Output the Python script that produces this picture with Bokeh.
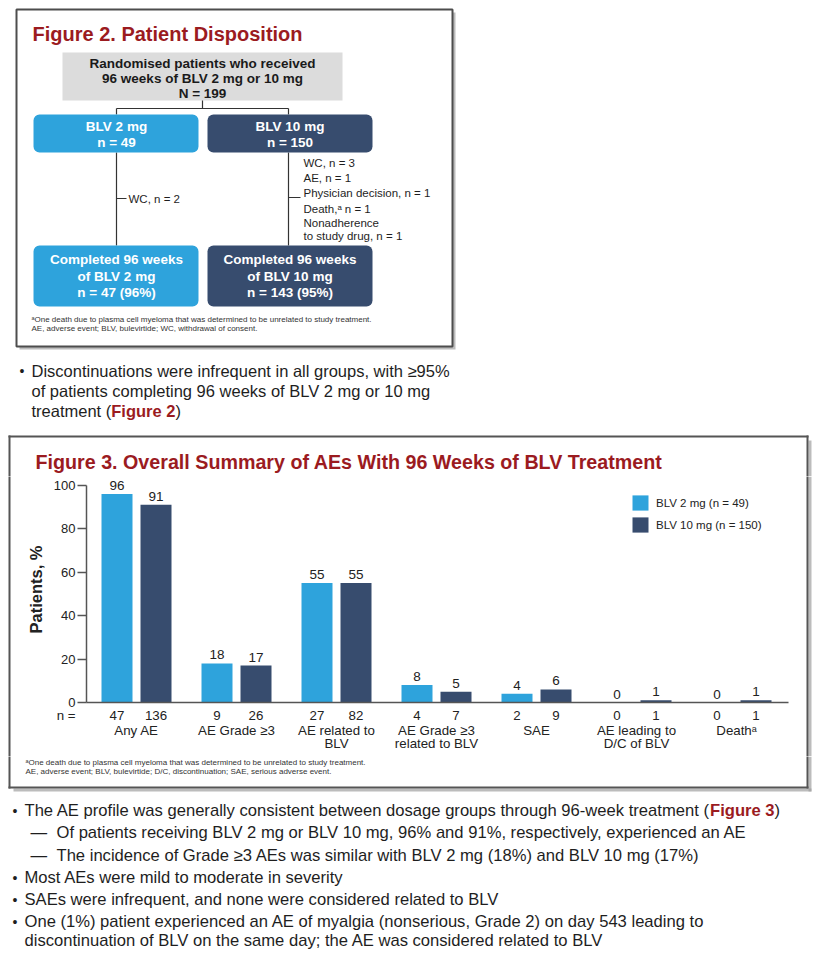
from bokeh.plotting import figure
from bokeh.layouts import column, row
from bokeh.models import (Range1d, FixedTicker, LinearAxis, LabelSet, ColumnDataSource, Legend,
                          LegendItem, AllLabels)
from bokeh.core.properties import value
from bokeh.embed import file_html
from bokeh.resources import INLINE

FONT = "Liberation Sans"
RED = "#9B1B1F"
LBLUE = "#2EA3DC"
NAVY = "#374C6E"
INK = "#1e1e1e"
EDGE = "#555555"
SHADOW = "#a0a0a0"

# ---------------- data ----------------
ae_categories = ["Any AE", "AE Grade \u22653", "AE related to\nBLV", "AE Grade \u22653\nrelated to BLV",
                 "SAE", "AE leading to\nD/C of BLV", "Death\u1d43"]
pct_2mg = [96, 18, 55, 8, 4, 0, 0]
pct_10mg = [91, 17, 55, 5, 6, 1, 1]
n_2mg = [47, 9, 27, 4, 2, 0, 0]
n_10mg = [136, 26, 82, 7, 9, 1, 1]
series_labels = ["BLV 2 mg (n = 49)", "BLV 10 mg (n = 150)"]
y_ticks = [0, 20, 40, 60, 80, 100]

randomised_lines = ["Randomised patients who received", "96 weeks of BLV 2 mg or 10 mg", "N = 199"]
arm_lines_2mg = ["BLV 2 mg", "n = 49"]
arm_lines_10mg = ["BLV 10 mg", "n = 150"]
done_lines_2mg = ["Completed 96 weeks", "of BLV 2 mg", "n = 47 (96%)"]
done_lines_10mg = ["Completed 96 weeks", "of BLV 10 mg", "n = 143 (95%)"]
withdraw_2mg = ["WC, n = 2"]
withdraw_10mg = ["WC, n = 3", "AE, n = 1", "Physician decision, n = 1", "Death,\u1d43 n = 1",
                 "Nonadherence", "to study drug, n = 1"]

# Arial / Liberation Sans advance widths (1/1000 em) used to place mixed-style text
AW = dict(zip("abcdefghijklmnopqrstuvwxyz",
              [556, 556, 500, 556, 556, 278, 556, 556, 222, 222, 500, 222, 833, 556, 556, 556, 556,
               333, 500, 278, 556, 500, 722, 500, 500, 500]))
AW.update({"T": 611, "A": 667, "E": 667, " ": 278, "(": 333, ")": 333, "-": 333, ",": 278, ".": 278})
for d in "0123456789":
    AW[d] = 556
AWB = {"F": 611, "i": 278, "g": 611, "u": 611, "r": 389, "e": 556, " ": 278, "2": 556, "3": 556}


def tw(s, size, table=AW):
    return sum(table.get(c, 556) for c in s) * size / 1000.0


def canvas(x0, width, y0, height):
    p = figure(width=width, height=height, x_range=Range1d(x0, x0 + width), y_range=Range1d(y0 + height, y0),
               x_axis_type=None, y_axis_type=None, toolbar_location=None, output_backend="svg",
               min_border=0, title=None, outline_line_color=None, frame_align=False)
    p.background_fill_color = "white"
    p.border_fill_color = "white"
    return p


def txt(p, x, y, s, size, color=INK, bold=False, align="left"):
    p.text(x=[x], y=[y], text=[s], text_font=value(FONT), text_font_size=size,
           text_font_style="bold" if bold else "normal", text_color=color,
           text_align=align, text_baseline="middle")


def edges(p, x0, y0, x1, y1):
    p.segment(x0=x0, y0=y0, x1=x1, y1=y1, line_color=EDGE, line_width=2, line_cap="square")


def shade(p, l, r, t, b):
    p.quad(left=l, right=r, top=t, bottom=b, fill_color=SHADOW, fill_alpha=0.7, line_color=None)


W = 826
TOP_H = 476          # page rows: 0-476, 476-756, 756-955
MID_H = 280
BOT_H = 955 - TOP_H - MID_H

# ---------------- top block: Figure 2, bullet, Figure 3 heading ----------------
pa = canvas(0, W, 0, TOP_H)
shade(pa, [19], [455], [12], [349])
pa.quad(left=[16], right=[452], top=[9], bottom=[346], fill_color="white", line_color="#4d4d4d", line_width=2)
txt(pa, 32, 33, "Figure 2. Patient Disposition", "20px", RED, bold=True)

pa.quad(left=[62], right=[342], top=[52], bottom=[100], fill_color="#DCDCDC", line_color=None)
for yy, s in zip([63, 78, 93], randomised_lines):
    txt(pa, 202, yy, s, "13.5px", "#1a1a1a", bold=True, align="center")

pa.segment(x0=[202, 116, 116, 288, 116, 288, 116, 288], y0=[100, 108, 108, 108, 152, 152, 198, 197],
           x1=[202, 288, 116, 288, 116, 288, 126, 300], y1=[108, 108, 114, 114, 245, 245, 198, 197],
           line_color="#333333", line_width=1.2)

pa.quad(left=[33, 207], right=[198, 372], top=[114, 114], bottom=[152, 152],
        fill_color=[LBLUE, NAVY], line_color=None, border_radius=6)
for yy, s in zip([126, 142], arm_lines_2mg):
    txt(pa, 116, yy, s, "13.5px", "white", bold=True, align="center")
for yy, s in zip([126, 142], arm_lines_10mg):
    txt(pa, 289.5, yy, s, "13.5px", "white", bold=True, align="center")

txt(pa, 128, 198, withdraw_2mg[0], "11.5px")
for yy, s in zip([162, 177, 192, 208, 222, 235], withdraw_10mg):
    txt(pa, 303, yy, s, "11.5px")

pa.quad(left=[33, 207], right=[198, 372], top=[245, 245], bottom=[306, 306],
        fill_color=[LBLUE, NAVY], line_color=None, border_radius=6)
for yy, s in zip([259, 276, 292], done_lines_2mg):
    txt(pa, 116, yy, s, "13.5px", "white", bold=True, align="center")
for yy, s in zip([259, 276, 292], done_lines_10mg):
    txt(pa, 289.5, yy, s, "13.5px", "white", bold=True, align="center")

txt(pa, 31, 319, "\u1d43One death due to plasma cell myeloma that was determined to be unrelated to study treatment.",
    "8px", "#333333")
txt(pa, 31, 328, "AE, adverse event; BLV, bulevirtide; WC, withdrawal of consent.", "8px", "#333333")

FS = 16.5
txt(pa, 19, 370, "\u2022", "14px")
txt(pa, 31, 370, "Discontinuations were infrequent in all groups, with \u226595%", f"{FS}px")
txt(pa, 31, 390, "of patients completing 96 weeks of BLV 2 mg or 10 mg", f"{FS}px")
s1 = "treatment ("
x1 = 31 + tw(s1, FS)
txt(pa, 31, 410, s1, f"{FS}px")
txt(pa, x1, 410, "Figure 2", f"{FS}px", RED, bold=True)
txt(pa, x1 + tw("Figure 2", FS, AWB), 410, ")", f"{FS}px")

# Figure 3 frame (upper part) and heading
shade(pa, [808], [811], [440], [TOP_H])
edges(pa, [9, 9, 807], [436, 436, 436], [807, 9, 807], [436, TOP_H, TOP_H])
txt(pa, 35, 461, "Figure 3. Overall Summary of AEs With 96 Weeks of BLV Treatment", "19.7px", RED, bold=True)

# ---------------- middle row: chart ----------------
PL_W, PR_W = 20, 26
PB_W = W - PL_W - PR_W
pl = canvas(0, PL_W, TOP_H, MID_H)
edges(pl, [9], [TOP_H], [9], [TOP_H + MID_H])
pr = canvas(W - PR_W, PR_W, TOP_H, MID_H)
shade(pr, [808], [811], [TOP_H], [TOP_H + MID_H])
edges(pr, [807], [TOP_H], [807], [TOP_H + MID_H])

Y_TOP = 104
pb = figure(width=PB_W, height=MID_H, x_range=Range1d(-0.5, 6.52), y_range=Range1d(0, Y_TOP),
            toolbar_location=None, output_backend="svg", title=None, outline_line_color=None,
            min_border_left=66, min_border_right=PB_W - 66 - 702, min_border_top=0,
            min_border_bottom=MID_H - 226, frame_align=False)
pb.background_fill_color = "white"
pb.border_fill_color = "white"
pb.xgrid.visible = False
pb.ygrid.visible = False

idx = list(range(len(ae_categories)))
x2 = [i - 0.195 for i in idx]
x10 = [i + 0.195 for i in idx]
src = ColumnDataSource(dict(x2=x2, x10=x10, p2=pct_2mg, p10=pct_10mg,
                            l2=[str(v) for v in pct_2mg], l10=[str(v) for v in pct_10mg]))
r2 = pb.vbar(x="x2", top="p2", width=0.31, source=src, fill_color=LBLUE, line_color=None)
r10 = pb.vbar(x="x10", top="p10", width=0.31, source=src, fill_color=NAVY, line_color=None)

for xs, ys, ls in (("x2", "p2", "l2"), ("x10", "p10", "l10")):
    pb.add_layout(LabelSet(x=xs, y=ys, text=ls, source=src, text_align="center",
                           text_baseline="alphabetic", y_offset=4, text_font=value(FONT),
                           text_font_size="13.5px", text_color="#222222"))

yax = pb.yaxis[0]
yax.ticker = FixedTicker(ticks=y_ticks)
yax.bounds = (0, 100)
yax.axis_label = "Patients, %"
yax.axis_label_text_font = FONT
yax.axis_label_text_font_size = "16.5px"
yax.axis_label_text_font_style = "bold"
yax.axis_label_text_color = "#222222"
yax.axis_label_standoff = 6
yax.major_label_text_font = FONT
yax.major_label_text_font_size = "13px"
yax.major_label_text_color = "#222222"
yax.major_label_standoff = 2
yax.major_tick_out = 9
yax.major_tick_in = 0
yax.minor_tick_out = 0
yax.minor_tick_in = 0
yax.axis_line_color = EDGE
yax.axis_line_width = 1.5
yax.major_tick_line_color = EDGE
yax.major_tick_line_width = 1.5

NB = "\u00a0"
xax = pb.xaxis[0]
bar_pos = x2 + x10
n_labels = {p: str(n) for p, n in zip(bar_pos, n_2mg + n_10mg)}
n_labels[-0.5] = "n =" + NB * 11
xax.ticker = FixedTicker(ticks=[-0.5] + bar_pos)
xax.major_label_overrides = n_labels
xax.major_label_policy = AllLabels()
xax.major_tick_out = 0
xax.major_tick_in = 0
xax.minor_tick_out = 0
xax.minor_tick_in = 0
xax.major_tick_line_color = None
xax.minor_tick_line_color = None
xax.axis_line_color = EDGE
xax.axis_line_width = 1.5
xax.major_label_standoff = 5
xax.major_label_text_font = FONT
xax.major_label_text_font_size = "13.3px"
xax.major_label_text_color = "#222222"

line1 = [c.split("\n")[0] for c in ae_categories]
line2 = [c.split("\n")[1] if "\n" in c else NB for c in ae_categories]
for labels, standoff in ((line1, -3), (line2, -5)):
    ax = LinearAxis(ticker=FixedTicker(ticks=idx),
                    major_label_overrides={i: c for i, c in zip(idx, labels)},
                    major_label_policy=AllLabels(),
                    axis_line_color=None, major_tick_line_color=None, minor_tick_line_color=None,
                    major_tick_out=0, major_tick_in=0, minor_tick_out=0, minor_tick_in=0,
                    major_label_standoff=standoff, major_label_text_font=FONT,
                    major_label_text_font_size="13.3px", major_label_text_color="#222222")
    pb.add_layout(ax, "below")

legend = Legend(items=[LegendItem(label=series_labels[0], renderers=[r2]),
                       LegendItem(label=series_labels[1], renderers=[r10])],
                location=(544, 168), glyph_width=20, glyph_height=19, label_standoff=6, spacing=3,
                padding=0, margin=0, border_line_color=None, background_fill_alpha=0,
                label_text_font=FONT, label_text_font_size="11.5px", label_text_color="#222222",
                label_height=19)
pb.add_layout(legend)

# ---------------- bottom block: footnote, frame bottom, bullets ----------------
Y0 = TOP_H + MID_H
pc = canvas(0, W, Y0, BOT_H)
shade(pc, [808, 13], [811, 811], [Y0, 788], [791, 791])
edges(pc, [9, 807, 9], [Y0, Y0, 787], [9, 807, 807], [787, 787, 787])
txt(pc, 25, 762, "\u1d43One death due to plasma cell myeloma that was determined to be unrelated to study treatment.",
    "8px", "#333333")
txt(pc, 25, 771, "AE, adverse event; BLV, bulevirtide; D/C, discontinuation; SAE, serious adverse event.",
    "8px", "#333333")

FS2 = 16.6
seg = "The AE profile was generally consistent between dosage groups through 96-week treatment ("
xs = 24 + tw(seg, FS2)
txt(pc, 12, 810, "\u2022", "14px")
txt(pc, 24, 810, seg, f"{FS2}px")
txt(pc, xs, 810, "Figure 3", f"{FS2}px", RED, bold=True)
txt(pc, xs + tw("Figure 3", FS2, AWB), 810, ")", f"{FS2}px")
txt(pc, 30, 832, "\u2014", f"{FS2}px")
txt(pc, 56, 832, "Of patients receiving BLV 2 mg or BLV 10 mg, 96% and 91%, respectively, experienced an AE", f"{FS2}px")
txt(pc, 30, 855, "\u2014", f"{FS2}px")
txt(pc, 56, 855, "The incidence of Grade \u22653 AEs was similar with BLV 2 mg (18%) and BLV 10 mg (17%)", f"{FS2}px")
for yy, s in zip([877, 899, 921], ["Most AEs were mild to moderate in severity",
                                   "SAEs were infrequent, and none were considered related to BLV",
                                   "One (1%) patient experienced an AE of myalgia (nonserious, Grade 2) on day 543 leading to"]):
    txt(pc, 12, yy, "\u2022", "14px")
    txt(pc, 24, yy, s, f"{FS2}px")
txt(pc, 24, 940, "discontinuation of BLV on the same day; the AE was considered related to BLV", f"{FS2}px")

page = column(pa, row(pl, pb, pr, spacing=0), pc, spacing=0)
open("out.html", "w").write(file_html(page, INLINE))
